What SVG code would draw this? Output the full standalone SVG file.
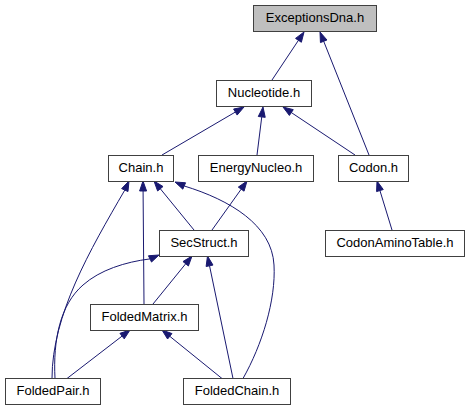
<svg xmlns="http://www.w3.org/2000/svg" width="471" height="411" viewBox="0 0 471 411">
<style>
.n rect{fill:#ffffff;stroke:#404040;stroke-width:1}
.n text{font-family:"Liberation Sans",Arial,sans-serif;font-size:13px;text-anchor:middle;fill:#000000}
.e path{fill:none;stroke:#191970;stroke-width:1}
.e polygon{fill:#191970;stroke:#191970;stroke-width:1}
</style>
<rect x="0" y="0" width="471" height="411" fill="#ffffff"/>
<g id="edges" class="e">
<path d="M272,80L298.45,40.32"/><polygon points="304,32 301.36,42.26 295.54,38.38"/>
<path d="M369,155L323.7,41.29"/><polygon points="320,32 326.95,39.99 320.45,42.59"/>
<path d="M162,155L235.37,112.05"/><polygon points="244,107 237.14,115.07 233.6,109.03"/>
<path d="M257,155L261.76,116.92"/><polygon points="263,107 265.23,117.35 258.29,116.49"/>
<path d="M355,155L291.32,112.55"/><polygon points="283,107 293.26,109.64 289.38,115.46"/>
<path d="M392,230L379.93,190.56"/><polygon points="377,181 383.28,189.53 376.58,191.59"/>
<path d="M194,230L160.32,188.75"/><polygon points="154,181 163.03,186.54 157.61,190.96"/>
<path d="M212,230L241.19,189.14"/><polygon points="247,181 244.04,191.17 238.34,187.11"/>
<path d="M144,304L143.08,191"/><polygon points="143,181 146.58,191.03 139.58,190.97"/>
<path d="M52,378.5C52,315 90,250 124.8,190.07"/><polygon points="129,181 127.97,191.54 121.63,188.6"/>
<path d="M243,378.5C262,345 276,300 274,265C272,225 230,200 184.18,185.96"/><polygon points="175,182 185.57,182.75 182.79,189.17"/>
<path d="M55,378.5C53,340 60,305 83,285C100,270 125,262 150,258.9"/><polygon points="159,255 151.53,262.05 148.47,255.75"/>
<path d="M153,304L185.69,263.76"/><polygon points="192,256 188.41,265.97 182.97,261.55"/>
<path d="M233,378.5L209.54,265.79"/><polygon points="207.5,256 212.97,265.08 206.11,266.5"/>
<path d="M67,378.5L122.08,336.1"/><polygon points="130,330 124.22,338.87 119.94,333.33"/>
<path d="M222,378.5L169.78,336.29"/><polygon points="162,330 171.98,333.57 167.58,339.01"/>
</g>
<g id="ExceptionsDna" class="n"><rect x="253.5" y="5.5" width="123" height="26" style="fill:#bfbfbf"/><text x="315" y="22">ExceptionsDna.h</text></g>
<g id="Nucleotide" class="n"><rect x="216.5" y="80.5" width="95" height="26"/><text x="264" y="97">Nucleotide.h</text></g>
<g id="Chain" class="n"><rect x="108.5" y="155.5" width="65" height="26"/><text x="141" y="172">Chain.h</text></g>
<g id="EnergyNucleo" class="n"><rect x="198.5" y="155.5" width="115" height="26"/><text x="256" y="172">EnergyNucleo.h</text></g>
<g id="Codon" class="n"><rect x="338.5" y="155.5" width="70" height="26"/><text x="373.5" y="172">Codon.h</text></g>
<g id="SecStruct" class="n"><rect x="159.5" y="230.5" width="89" height="26"/><text x="204" y="247">SecStruct.h</text></g>
<g id="CodonAminoTable" class="n"><rect x="325.5" y="230.5" width="139" height="26"/><text x="395" y="247">CodonAminoTable.h</text></g>
<g id="FoldedMatrix" class="n"><rect x="90.5" y="304.5" width="108" height="26"/><text x="144.5" y="321">FoldedMatrix.h</text></g>
<g id="FoldedPair" class="n"><rect x="5.5" y="378.5" width="95" height="26"/><text x="53" y="395">FoldedPair.h</text></g>
<g id="FoldedChain" class="n"><rect x="183.5" y="378.5" width="107" height="26"/><text x="237" y="395">FoldedChain.h</text></g>
</svg>
